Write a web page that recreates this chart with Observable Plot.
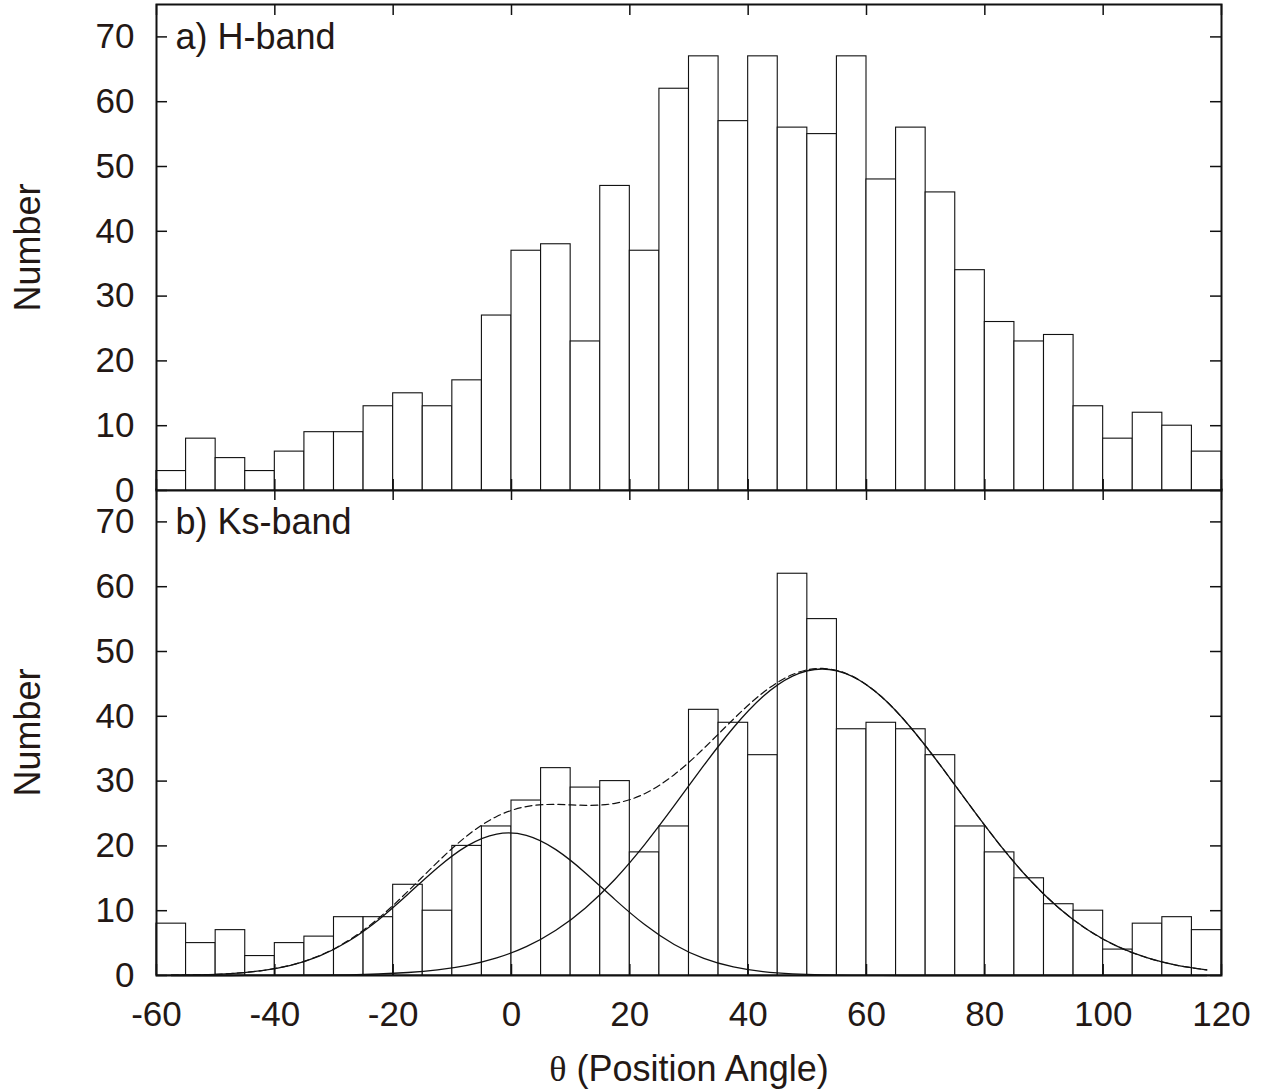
<!DOCTYPE html>
<html><head><meta charset="utf-8">
<script src="https://cdn.jsdelivr.net/npm/d3@7"></script>
<script src="https://cdn.jsdelivr.net/npm/@observablehq/plot@0.6"></script>
<style>
body{margin:0;background:#fff}
#chart{position:relative;width:1273px;height:1092px}
#chart svg{position:absolute;left:0;overflow:visible}
</style>
</head><body><div id="chart"></div>
<script>
// ---- data ----
const binStart = [-60,-55,-50,-45,-40,-35,-30,-25,-20,-15,-10,-5,0,5,10,15,20,25,30,35,40,45,50,55,60,65,70,75,80,85,90,95,100,105,110,115];
const binWidth = 5;
const hBand  = [3,8,5,3,6,9,9,13,15,13,17,27,37,38,23,47,37,62,67,57,67,56,55,67,48,56,46,34,26,23,24,13,8,12,10,6];
const ksBand = [8,5,7,3,5,6,9,9,14,10,20,23,27,32,29,30,19,23,41,39,34,62,55,38,39,38,34,23,19,15,11,10,4,8,9,7];

const curveX = [-57.5,-52.5,-47.5,-42.5,-37.5,-32.5,-27.5,-22.5,-17.5,-12.5,-7.5,-2.5,2.5,7.5,12.5,17.5,22.5,27.5,32.5,37.5,42.5,47.5,52.5,57.5,62.5,67.5,72.5,77.5,82.5,87.5,92.5,97.5,102.5,107.5,112.5,117.5];
const fitLeft  = [0.04,0.11,0.30,0.71,1.53,3.00,5.33,8.58,12.54,16.63,20.00,21.83,21.62,19.42,15.83,11.71,7.86,4.79,2.64,1.32,0.60,0.25,0.09,0.03,0.01,0,0,0,0,0,0,0,0,0,0,0];
const fitRight = [0,0,0,0.01,0.02,0.05,0.11,0.23,0.46,0.87,1.57,2.71,4.45,6.98,10.43,14.86,20.20,26.20,32.41,38.23,43.04,46.20,47.30,46.20,43.04,38.23,32.41,26.20,20.20,14.86,10.43,6.98,4.45,2.71,1.57,0.87];
const fitSum   = [0.04,0.11,0.30,0.72,1.55,3.05,5.44,8.81,13.00,17.50,21.57,24.54,26.07,26.40,26.26,26.57,28.06,30.99,35.05,39.55,43.64,46.45,47.39,46.23,43.05,38.23,32.41,26.20,20.20,14.86,10.43,6.98,4.45,2.71,1.57,0.87];

const yTicks = [0,10,20,30,40,50,60,70];
const xTicks = [-60,-40,-20,0,20,40,60,80,100,120];
const panelLabels = ["a) H-band", "b) Ks-band"];
const yLabel = "Number";
const xLabel = "θ (Position Angle)";

// ---- layout ----
const W = 1273, mL = 156, mR = 52;
const innerW = W - mL - mR;
const innerH = 486;
const textColor = "#231815";
const font = "'Liberation Sans', Arial, Helvetica, sans-serif";
const fsTick = 35;
const fsLabel = 36;
const tickLen = 11;

function panel(counts, label, isBottom) {
  const bars = binStart.map((s, i) => ({x1: s, x2: s + binWidth, n: counts[i]}));
  const marks = [
    Plot.rectY(bars, {x1: "x1", x2: "x2", y: "n", fill: "white", stroke: "#111", strokeWidth: 1.1}),
  ];
  if (isBottom) {
    const rows = curveX.map((x, i) => ({x, a: fitLeft[i], b: fitRight[i], s: fitSum[i]}));
    marks.push(
      Plot.line(rows, {x: "x", y: "s", curve: "natural", stroke: "#111", strokeWidth: 1.2, strokeDasharray: "7,4"}),
      Plot.line(rows, {x: "x", y: "a", curve: "natural", stroke: "#111", strokeWidth: 1.3}),
      Plot.line(rows, {x: "x", y: "b", curve: "natural", stroke: "#111", strokeWidth: 1.3})
    );
  }
  marks.push(
    Plot.ruleY(yTicks, {y: d => d, insetRight: innerW - tickLen, stroke: "#111", strokeWidth: 1.5}),
    Plot.ruleY(yTicks, {y: d => d, insetLeft: innerW - tickLen, stroke: "#111", strokeWidth: 1.5}),
    Plot.ruleX(xTicks, {x: d => d, insetTop: innerH - tickLen, stroke: "#111", strokeWidth: 1.5}),
    Plot.ruleX(xTicks, {x: d => d, insetBottom: innerH - tickLen, stroke: "#111", strokeWidth: 1.5}),
    Plot.frame({stroke: "#111", strokeWidth: 2}),
    Plot.axisY(yTicks, {anchor: "left", tickSize: 0, tickPadding: 22, label: null, fontSize: fsTick, color: textColor, tickFormat: d => String(d)}),
    Plot.text([label], {frameAnchor: "top-left", text: d => d, dx: 19, dy: 33, textAnchor: "start", lineAnchor: "middle", fontSize: fsLabel, fill: textColor}),
    Plot.text([yLabel], {frameAnchor: "left", text: d => d, dx: -128, rotate: -90, textAnchor: "middle", lineAnchor: "middle", fontSize: fsLabel, fill: textColor})
  );
  if (isBottom) {
    marks.push(
      Plot.axisX(xTicks, {anchor: "bottom", tickSize: 0, tickPadding: 26, label: null, fontSize: fsTick, color: textColor, tickFormat: d => String(d)}),
      Plot.text([xLabel], {frameAnchor: "bottom", text: d => d, dy: 94, textAnchor: "middle", lineAnchor: "middle", fontSize: fsLabel, fill: textColor})
    );
  }
  return Plot.plot({
    width: W,
    height: isBottom ? 603 : 490,
    marginLeft: mL, marginRight: mR,
    marginTop: isBottom ? 0 : 4,
    marginBottom: isBottom ? 117 : 0,
    x: {domain: [-60, 120], axis: null},
    y: {domain: [0, 75], axis: null},
    style: {fontFamily: font, fontSize: fsTick + "px", color: textColor, background: "transparent", overflow: "visible"},
    marks
  });
}

const chartEl = document.getElementById("chart");
const topPanel = panel(hBand, panelLabels[0], false);
topPanel.style.top = "0px";
const bottomPanel = panel(ksBand, panelLabels[1], true);
bottomPanel.style.top = "489px";
chartEl.appendChild(bottomPanel);
chartEl.appendChild(topPanel);

// serif theta in x label
bottomPanel.querySelectorAll("text").forEach(t => {
  if (t.textContent === xLabel) {
    t.textContent = "";
    const ns = "http://www.w3.org/2000/svg";
    const a = document.createElementNS(ns, "tspan");
    a.setAttribute("font-family", "'Liberation Serif', 'Times New Roman', serif");
    a.textContent = "θ";
    const b = document.createElementNS(ns, "tspan");
    b.textContent = " (Position Angle)";
    t.appendChild(a); t.appendChild(b);
  }
});
</script>
</body></html>
